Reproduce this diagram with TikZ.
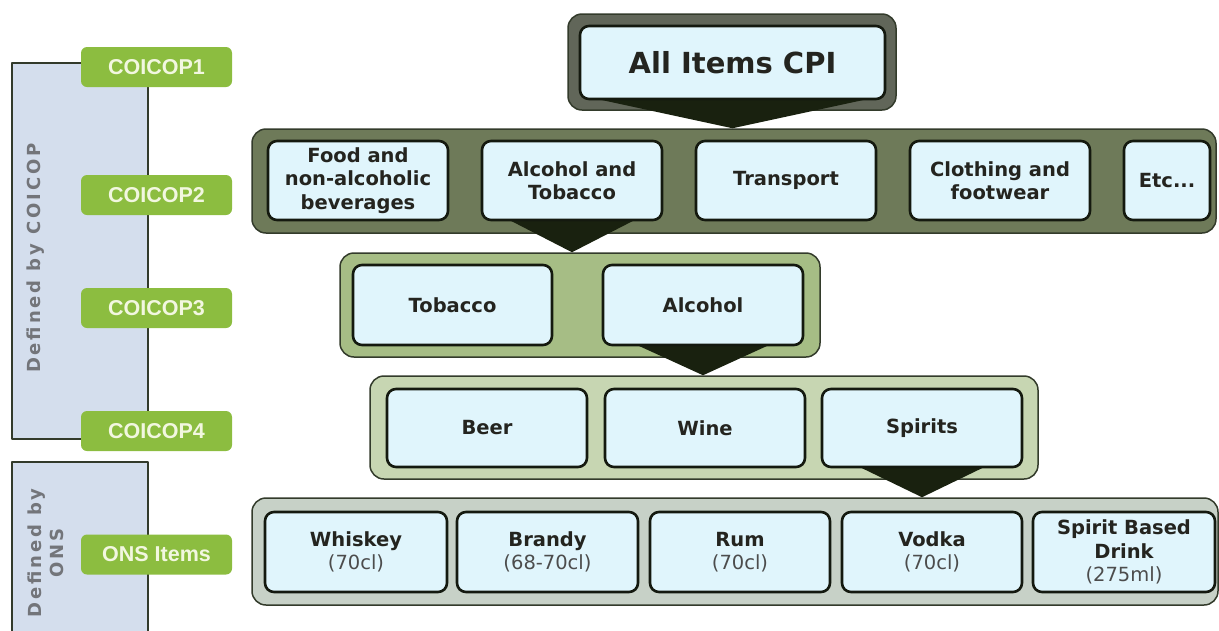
\documentclass[tikz,border=0pt]{standalone}
\usepackage{fontspec}
\usepackage{tikz}
\setmainfont{DejaVu Sans}
\newfontfamily\labfont{Liberation Sans}
\newfontfamily\sidefont[LetterSpace=16]{DejaVu Sans}
\usetikzlibrary{calc}
\pgfdeclarelayer{background}
\pgfsetlayers{background,main}
\definecolor{boxfill}{rgb}{0.88,0.96,0.99}
\definecolor{boxline}{rgb}{0.08,0.1,0.06}
\definecolor{boxtext}{rgb}{0.14,0.14,0.12}
\definecolor{lvlone}{rgb}{0.38,0.4,0.35}
\definecolor{lvltwo}{rgb}{0.43,0.48,0.35}
\definecolor{lvlthree}{rgb}{0.65,0.74,0.52}
\definecolor{lvlfour}{rgb}{0.78,0.84,0.7}
\definecolor{lvlfive}{rgb}{0.78,0.82,0.78}
\definecolor{outerline}{rgb}{0.2,0.23,0.17}
\definecolor{trifill}{rgb}{0.1,0.13,0.06}
\definecolor{labgreen}{rgb}{0.55,0.74,0.25}
\definecolor{labtext}{rgb}{0.95,0.97,0.88}
\definecolor{panelfill}{rgb}{0.83,0.87,0.93}
\definecolor{sidegray}{rgb}{0.45,0.46,0.48}
\definecolor{sizegray}{rgb}{0.3,0.3,0.3}
\tikzstyle{every node}=[inner sep=0pt]
\tikzstyle{itembox}=[draw=boxline,line width=2.6pt,fill=boxfill,text=boxtext,rounded corners=9pt,align=center,minimum height=79pt,font=\fontsize{19.5}{23.5}\selectfont\bfseries]
\tikzstyle{levelbox}=[draw=outerline,line width=1.5pt,rounded corners=14pt]
\tikzstyle{coicop}=[fill=labgreen,rounded corners=6pt,minimum width=151pt,minimum height=40pt,text=labtext,font=\labfont\fontsize{21.5}{24}\selectfont\bfseries]
\tikzstyle{sidepanel}=[draw=outerline,line width=2.5pt,fill=panelfill]
\tikzstyle{sidetext}=[rotate=90,align=center,text=sidegray,font=\sidefont\fontsize{18}{22}\selectfont\bfseries]
\tikzstyle{tri}=[fill=trifill]
\newcommand{\size}[1]{{\mdseries\color{sizegray}#1}}

\begin{document}
\begin{tikzpicture}[line cap=round,line join=round,x=1pt,y=-1pt]
\useasboundingbox (0,0) rectangle (1219,630);
\draw [sidepanel] (12,63) rectangle (148,439);
\draw [sidepanel] (12,462) rectangle (148,640);
\node[sidetext] (coicopside) at (36,258) {Defined by COICOP};
\node[sidetext] (onsside) at (46,553) {Defined by\\ONS};
\node[coicop] (c1) at (156.5,67) {COICOP1};
\node[coicop] (c2) at (156.5,195) {COICOP2};
\node[coicop] (c3) at (156.5,308) {COICOP3};
\node[coicop] (c4) at (156.5,431) {COICOP4};
\node[coicop] (ons) at (156.5,554.5) {ONS Items};
\node[itembox,minimum width=305pt,minimum height=73pt,font=\fontsize{29}{33}\selectfont\bfseries] (cpi) at (732.5,62.5) {All Items CPI};
\node[itembox,minimum width=180pt] (food) at (358,180.5) {Food and\\non-alcoholic\\beverages};
\node[itembox,minimum width=180pt] (alctob) at (572,180.5) {Alcohol and\\Tobacco};
\node[itembox,minimum width=180pt] (transport) at (786,180.5) {Transport};
\node[itembox,minimum width=180pt] (clothing) at (1000,180.5) {Clothing and\\footwear};
\node[itembox,minimum width=86pt] (etc) at (1167,180.5) {Etc...};
\node[itembox,minimum width=199pt,minimum height=80pt] (tobacco) at (452.5,305) {Tobacco};
\node[itembox,minimum width=200pt,minimum height=80pt] (alcohol) at (703,305) {Alcohol};
\node[itembox,minimum width=200pt,minimum height=78pt] (beer) at (487,428) {Beer};
\node[itembox,minimum width=200pt,minimum height=78pt] (wine) at (705,428) {Wine};
\node[itembox,minimum width=200pt,minimum height=78pt] (spirits) at (922,428) {Spirits};
\node[itembox,minimum width=182pt,minimum height=80pt] (whiskey) at (356,552) {Whiskey\\\size{(70cl)}};
\node[itembox,minimum width=181pt,minimum height=80pt] (brandy) at (547.5,552) {Brandy\\\size{(68-70cl)}};
\node[itembox,minimum width=180pt,minimum height=80pt] (rum) at (740,552) {Rum\\\size{(70cl)}};
\node[itembox,minimum width=180pt,minimum height=80pt] (vodka) at (932,552) {Vodka\\\size{(70cl)}};
\node[itembox,minimum width=182pt,minimum height=80pt] (spiritdrink) at (1124,552) {Spirit Based\\Drink\\\size{(275ml)}};
\begin{pgfonlayer}{background}
\node[levelbox,fill=lvlone,minimum width=328pt,minimum height=96pt] (lvl1) at (732,62) {};
\node[levelbox,fill=lvltwo,minimum width=964pt,minimum height=104pt] (lvl2) at (734,181) {};
\node[levelbox,fill=lvlthree,minimum width=480pt,minimum height=104pt] (lvl3) at (580,305) {};
\node[levelbox,fill=lvlfour,minimum width=668pt,minimum height=103pt] (lvl4) at (704,427.5) {};
\node[levelbox,fill=lvlfive,minimum width=966pt,minimum height=107pt] (lvl5) at (735,551.5) {};
\fill[tri] ($(cpi.south)+(-148,-4)$) -- ($(cpi.south)+(148,-4)$) -- (cpi.south |- lvl2.north) -- cycle;
\fill[tri] ($(alctob.south)+(-68,-4)$) -- ($(alctob.south)+(68,-4)$) -- (alctob.south |- lvl3.north) -- cycle;
\fill[tri] ($(alcohol.south)+(-72,-4)$) -- ($(alcohol.south)+(72,-4)$) -- (alcohol.south |- lvl4.north) -- cycle;
\fill[tri] ($(spirits.south)+(-68,-4)$) -- ($(spirits.south)+(68,-4)$) -- (spirits.south |- lvl5.north) -- cycle;
\end{pgfonlayer}
\end{tikzpicture}
\end{document}
